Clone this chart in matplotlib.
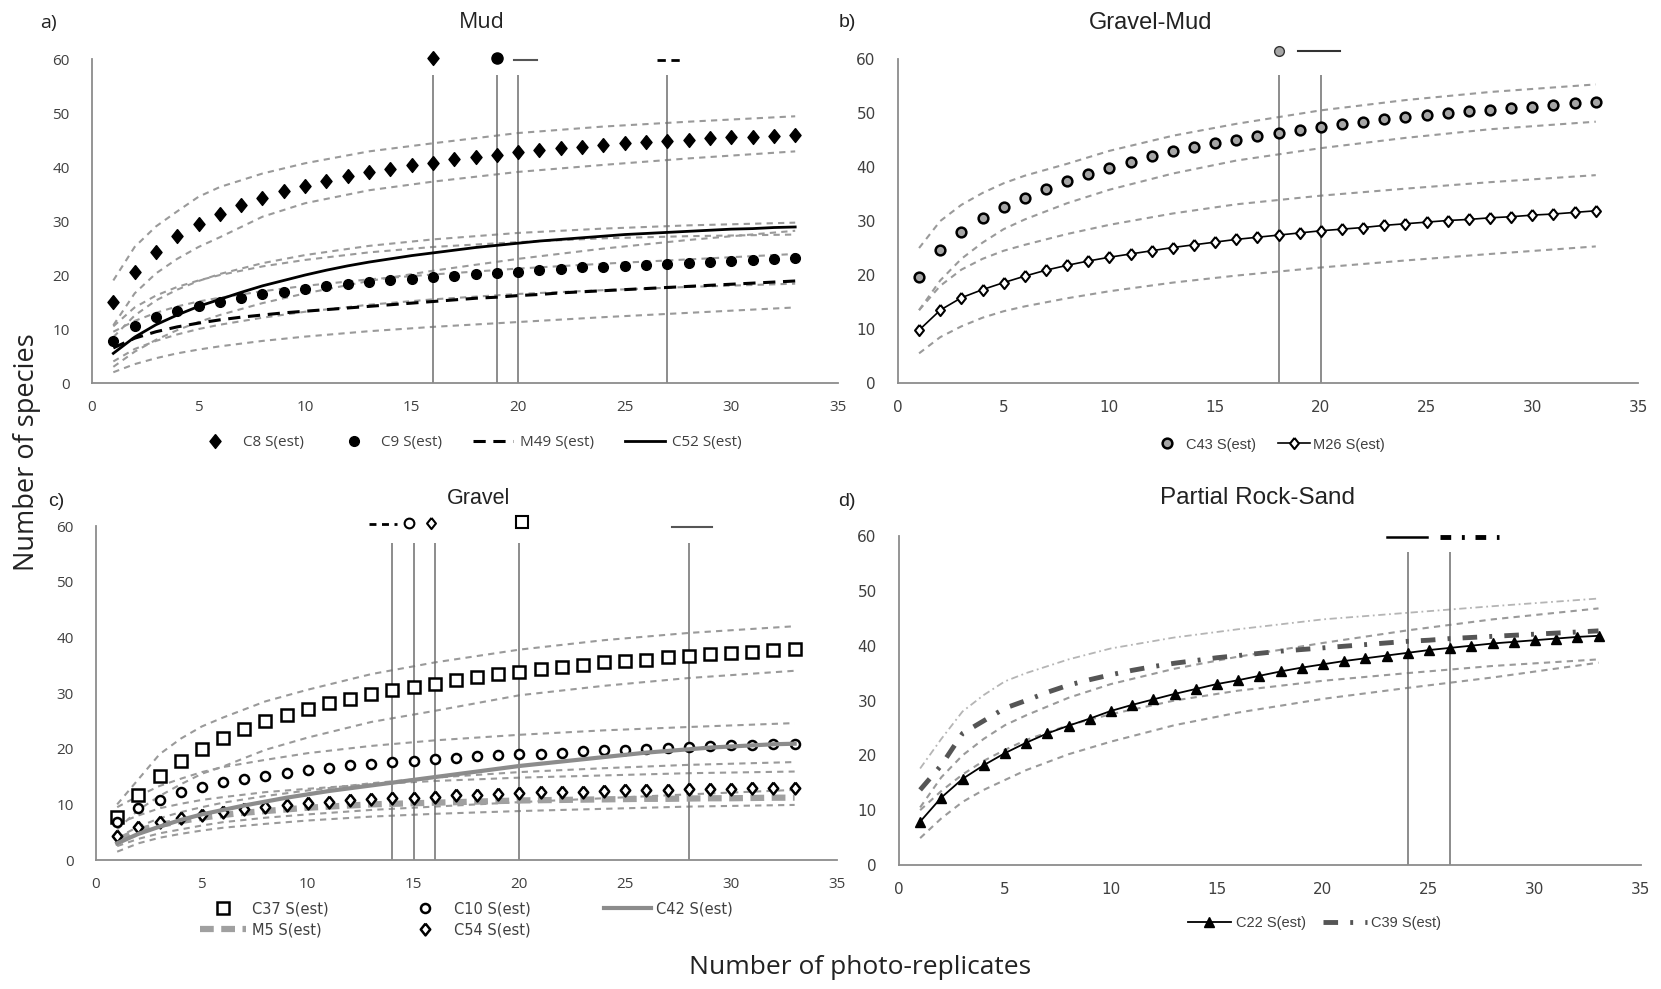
import numpy as np
import matplotlib
matplotlib.use('Agg')
import matplotlib.pyplot as plt

# replicates 1..33 and the subset used for the confidence bound curves
reps = list(range(1, 34))
bx = [1, 2, 3, 4, 5, 6, 8, 10, 13, 16, 20, 24, 28, 33]

# ---- a) Mud
c8 = [15, 20.5, 24.2, 27.2, 29.5, 31.3, 33, 34.3, 35.5, 36.5, 37.4, 38.3, 39, 39.6, 40.3, 40.8, 41.4,
      41.9, 42.3, 42.7, 43.1, 43.5, 43.8, 44.1, 44.4, 44.7, 44.9, 45.1, 45.3, 45.5, 45.6, 45.8, 46]
c9 = [7.7, 10.5, 12.2, 13.3, 14.3, 15.1, 15.8, 16.4, 16.9, 17.4, 17.9, 18.3, 18.7, 19, 19.3, 19.6, 19.9,
      20.2, 20.4, 20.6, 20.9, 21.1, 21.4, 21.5, 21.7, 21.9, 22.1, 22.3, 22.5, 22.6, 22.8, 22.9, 23.1]
m49 = [6.5, 8.3, 9.5, 10.4, 11.1, 11.7, 12.2, 12.6, 13.0, 13.3, 13.6, 13.9, 14.2, 14.5, 14.8, 15.1, 15.4,
       15.7, 15.9, 16.2, 16.4, 16.7, 16.9, 17.1, 17.3, 17.5, 17.7, 17.9, 18.1, 18.3, 18.5, 18.7, 18.9]
c52 = [5.5, 8.5, 10.8, 12.6, 14.2, 15.5, 16.8, 18, 19, 20, 20.9, 21.7, 22.4, 23, 23.6, 24.1, 24.6,
       25.1, 25.5, 25.9, 26.3, 26.6, 26.9, 27.2, 27.5, 27.7, 27.9, 28.1, 28.3, 28.5, 28.6, 28.8, 28.9]
mud_bounds = [
    [19, 25.2, 29, 31.8, 34.5, 36.3, 38.8, 40.7, 42.9, 44.4, 46.3, 47.5, 48.4, 49.4],
    [10.7, 16.6, 20.3, 23, 25.2, 27, 30.8, 33.3, 35.7, 37.3, 39.1, 40.4, 41.6, 42.9],
    [10.5, 14, 16.2, 17.8, 19, 20, 21.6, 22.8, 24.2, 25.2, 26.1, 26.8, 27.2, 27.5],
    [4, 6.3, 7.8, 9, 10, 10.8, 12.1, 13.2, 14.5, 15.5, 16.5, 17.2, 17.8, 18.4],
    [9.5, 11.5, 13, 14.2, 15.1, 15.8, 17, 18, 19.2, 20.1, 21.2, 22.1, 22.9, 23.9],
    [2, 3.5, 4.6, 5.5, 6.2, 6.8, 7.8, 8.6, 9.6, 10.4, 11.3, 12.2, 13, 14],
    [8.5, 12.5, 15.3, 17.3, 18.9, 20.2, 22.2, 23.7, 25.4, 26.6, 27.8, 28.6, 29.2, 29.7],
    [3, 5.8, 8, 9.8, 11.3, 12.6, 14.8, 16.6, 18.9, 20.8, 23, 24.9, 26.5, 28.2],
]
mud_vlines = [16, 19, 20, 27]

# ---- b) Gravel-Mud
c43 = [19.6, 24.7, 27.9, 30.5, 32.6, 34.3, 36, 37.5, 38.8, 39.9, 40.9, 42, 42.9, 43.7, 44.4, 45.1, 45.7,
       46.3, 46.9, 47.5, 48, 48.4, 48.9, 49.3, 49.7, 50, 50.3, 50.6, 51, 51.2, 51.5, 51.8, 52]
m26 = [9.8, 13.5, 15.8, 17.3, 18.6, 19.8, 20.9, 21.8, 22.6, 23.3, 23.9, 24.5, 25.1, 25.6, 26.1, 26.6, 27,
       27.4, 27.8, 28.2, 28.5, 28.8, 29.2, 29.5, 29.8, 30.1, 30.3, 30.6, 30.8, 31.1, 31.3, 31.6, 31.9]
gm_bounds = [
    [25, 30, 33, 35.2, 37, 38.4, 40.6, 43, 45.8, 48, 50.5, 52.4, 53.9, 55.3],
    [13.5, 19, 23, 26, 28.5, 30.3, 33.3, 35.8, 38.8, 41.2, 43.5, 45.4, 47, 48.4],
    [13.5, 18, 21, 23, 24.5, 25.6, 27.6, 29.3, 31.4, 33.1, 34.7, 36, 37.2, 38.5],
    [5.5, 8.5, 10.5, 12.1, 13.3, 14.2, 15.7, 17, 18.6, 19.9, 21.4, 22.7, 23.9, 25.3],
]
gm_vlines = [18, 20]

# ---- c) Gravel
c37 = [7.7, 11.7, 15.1, 17.8, 19.9, 21.9, 23.5, 24.9, 26, 27.2, 28.2, 28.9, 29.8, 30.6, 31.1, 31.7, 32.3,
       32.9, 33.4, 33.8, 34.3, 34.7, 35.1, 35.5, 35.8, 36.0, 36.4, 36.7, 37.0, 37.2, 37.4, 37.7, 38.0]
c10 = [6.8, 9.4, 10.8, 12.2, 13.1, 14.0, 14.6, 15.1, 15.7, 16.2, 16.5, 17, 17.3, 17.6, 17.8, 18.1, 18.4,
       18.6, 18.8, 19, 19.1, 19.3, 19.6, 19.7, 19.8, 20, 20.2, 20.3, 20.5, 20.6, 20.7, 20.8, 20.9]
c42 = [3.0, 4.7, 6.0, 7.2, 8.2, 9.0, 9.8, 10.5, 11.2, 11.8, 12.4, 12.9, 13.4, 13.9, 14.4, 14.9, 15.4,
       15.9, 16.4, 16.9, 17.3, 17.7, 18.1, 18.5, 18.9, 19.3, 19.6, 19.9, 20.2, 20.4, 20.6, 20.8, 20.9]
m5 = [3.5, 5.3, 6.3, 7, 7.6, 8.1, 8.5, 8.8, 9.1, 9.4, 9.6, 9.8, 10.0, 10.1, 10.2, 10.3, 10.4,
      10.5, 10.6, 10.7, 10.75, 10.8, 10.85, 10.9, 10.95, 11.0, 11.0, 11.05, 11.1, 11.1, 11.15, 11.2, 11.2]
c54 = [4.3, 5.9, 6.8, 7.5, 8.1, 8.6, 9.1, 9.6, 9.9, 10.2, 10.5, 10.7, 10.9, 11.1, 11.2, 11.4, 11.6,
       11.7, 11.9, 12.0, 12.2, 12.2, 12.3, 12.4, 12.5, 12.5, 12.6, 12.7, 12.8, 12.8, 12.9, 12.9, 13.0]
gr_bounds = [
    [10, 14.5, 19, 21.8, 24, 25.6, 28.5, 30.6, 33.4, 35.5, 37.8, 39.5, 40.8, 42],
    [5.5, 9, 11.5, 13.6, 15.5, 16.8, 19.8, 22, 24.8, 26.8, 29.6, 31.3, 32.7, 34],
    [9.5, 11.5, 13.3, 14.6, 15.8, 16.7, 18, 19.2, 20.5, 21.5, 22.5, 23.3, 23.9, 24.6],
    [4, 6, 7.5, 8.6, 9.5, 10.3, 11.5, 12.5, 13.8, 14.8, 15.8, 16.5, 17.1, 17.6],
    [6.5, 8, 9.3, 10.1, 10.8, 11.3, 12.2, 12.8, 13.6, 14.2, 14.8, 15.2, 15.6, 15.9],
    [1.5, 3, 4, 4.7, 5.3, 5.8, 6.5, 7.1, 7.8, 8.3, 8.8, 9.2, 9.6, 9.9],
    [2.5, 3.8, 4.8, 5.5, 6.2, 6.8, 7.6, 8.2, 9, 9.6, 10.4, 11.1, 11.8, 12.6],
]
gr_vlines = [14, 15, 16, 20, 28]

# ---- d) Partial Rock-Sand
c22 = [7.9, 12.3, 15.7, 18.2, 20.4, 22.3, 24, 25.4, 26.7, 28.1, 29.2, 30.2, 31.2, 32.1, 33, 33.7, 34.5,
       35.3, 36, 36.6, 37.2, 37.7, 38.2, 38.7, 39.2, 39.6, 40, 40.4, 40.7, 41, 41.3, 41.6, 41.8]
c39 = [13.7, 18.2, 24, 26.3, 28.6, 30, 31.5, 32.8, 33.8, 34.7, 35.5, 36.2, 36.8, 37.3, 37.8, 38.2, 38.6,
       39, 39.3, 39.6, 39.9, 40.2, 40.5, 40.8, 41.0, 41.3, 41.5, 41.7, 41.9, 42.1, 42.3, 42.5, 42.7]
c39_up = [17.6, 23, 28, 31, 33.5, 35, 37.5, 39.5, 41.5, 43, 44.8, 46, 47.2, 48.6]
rs_bounds = [
    [10.5, 16, 20, 23, 25.5, 27.3, 30.5, 33, 35.8, 38, 40.5, 42.8, 44.8, 46.8],
    [4.9, 8.5, 11.5, 13.7, 15.5, 17.3, 20.2, 22.5, 25.5, 27.8, 30.3, 32.3, 34.2, 36.9],
    [10, 13.5, 16.5, 19, 21, 22.8, 25.5, 27.5, 30, 31.8, 33.6, 35, 36.3, 37.5],
]
rs_vlines = [24, 26]

GRAY = '#9a9a9a'
TXT = '#404040'
DIAM = [(0, 1), (0.8, 0), (0, -1), (-0.8, 0), (0, 1)]

fig = plt.figure(figsize=(16.61, 9.89), dpi=100)
plt.rcParams['font.family'] = ['Liberation Sans Narrow', 'Liberation Sans', 'DejaVu Sans']


def style(ax, font):
    ax.set_xlim(0, 35)
    ax.set_ylim(0, 60)
    ax.set_xticks(range(0, 36, 5))
    ax.set_yticks(range(0, 61, 10))
    for s in ['top', 'right']:
        ax.spines[s].set_visible(False)
    for s in ['left', 'bottom']:
        ax.spines[s].set_color('#8c8c8c')
        ax.spines[s].set_linewidth(1.3)
    ax.tick_params(length=0, labelsize=11, labelcolor=TXT, pad=12)
    ax.tick_params(axis='y', pad=16)
    for lab in ax.get_xticklabels() + ax.get_yticklabels():
        lab.set_family(font)


def bounds(ax, curves, **kw):
    for b in curves:
        ax.plot(bx, b, color=GRAY, lw=1.5, dashes=(3, 2.5), **kw)


def vlines(ax, xs):
    ax.vlines(xs, 0, 57, color='#6e6e6e', lw=1.1)


def legend_text(leg, font=None):
    for t in leg.get_texts():
        t.set_color(TXT)
        if font:
            t.set_family(font)


# a) Mud
ax = fig.add_axes([0.0554, 0.6127, 0.449, 0.3276])
style(ax, 'Open Sans')
bounds(ax, mud_bounds)
vlines(ax, mud_vlines)
ax.plot(reps, c8, marker=DIAM, color='black', ms=10, ls='none', label='C8 S(est)')
ax.plot(reps, c9, 'o', color='black', ms=7, ls='none', label='C9 S(est)')
ax.plot(reps, m49, color='black', lw=2.2, dashes=(4, 2.5), label='M49 S(est)')
ax.plot(reps, c52, color='black', lw=2, label='C52 S(est)')
ax.plot([16], [60.2], marker=DIAM, color='black', ms=10, clip_on=False)
ax.plot([19], [60.2], 'o', color='black', ms=8, clip_on=False)
ax.plot([19.8, 20.9], [59.8, 59.8], color='#555555', lw=1.5, clip_on=False)
ax.plot([26.5, 27.8], [59.8, 59.8], color='black', lw=2, dashes=(3, 2), clip_on=False)
leg = ax.legend(loc='center', bbox_to_anchor=(0.505, -0.185), ncol=4, frameon=False,
                fontsize=11, columnspacing=2.0, handlelength=2.6, handletextpad=0.5)
legend_text(leg, 'Open Sans')

# b) Gravel-Mud
ax = fig.add_axes([0.5406, 0.6127, 0.4456, 0.3276])
style(ax, 'Liberation Sans Narrow')
bounds(ax, gm_bounds)
vlines(ax, gm_vlines)
ax.plot(reps, c43, 'o', mfc='#a6a6a6', mec='black', mew=1.8, ms=7, ls='none', label='C43 S(est)')
ax.plot(reps, m26, color='black', lw=1.2, marker=DIAM, mfc='white', mec='black', mew=1.5, ms=8,
        label='M26 S(est)')
ax.plot([18], [61.5], 'o', mfc='#a6a6a6', mec='#333333', mew=1, ms=7, clip_on=False)
ax.plot([18.9, 20.9], [61.4, 61.4], color='#333333', lw=1.5, clip_on=False)
leg = ax.legend(loc='center', bbox_to_anchor=(0.5, -0.19), ncol=2, frameon=False,
                fontsize=10.5, columnspacing=1.5, handlelength=2.2, handletextpad=0.2)
legend_text(leg)

# c) Gravel
ax = fig.add_axes([0.0578, 0.1304, 0.4461, 0.3377])
style(ax, 'Open Sans')
bounds(ax, gr_bounds)
vlines(ax, gr_vlines)
ax.plot(reps, c37, 's', mfc='white', mec='black', mew=1.8, ms=8.5, ls='none', label='C37 S(est)')
ax.plot(reps, m5, color='#a0a0a0', lw=4.5, dashes=(2.2, 1.2), label='M5 S(est)')
ax.plot(reps, c10, 'o', mfc='white', mec='black', mew=1.8, ms=6.5, ls='none', label='C10 S(est)')
ax.plot(reps, c54, marker=DIAM, mfc='white', mec='black', mew=1.8, ms=8.5, ls='none', label='C54 S(est)')
ax.plot(reps, c42, color='#8c8c8c', lw=3, label='C42 S(est)')
ax.plot([12.9, 14.2], [60.4, 60.4], color='black', lw=2, dashes=(2.5, 2), clip_on=False)
ax.plot([14.8], [60.6], 'o', mfc='white', mec='black', mew=1.5, ms=7, clip_on=False)
ax.plot([15.8], [60.6], marker=DIAM, mfc='white', mec='black', mew=1.5, ms=8, clip_on=False)
ax.plot([20.1], [60.8], 's', mfc='white', mec='black', mew=1.5, ms=9, clip_on=False)
ax.plot([27.2, 29.1], [59.8, 59.8], color='#555555', lw=1.5, clip_on=False)
leg = ax.legend(loc='center', bbox_to_anchor=(0.50, -0.178), ncol=3, frameon=False,
                fontsize=10.5, columnspacing=5.0, handlelength=3.2, handletextpad=0.4,
                labelspacing=0.4)
legend_text(leg, 'Liberation Sans Narrow')

# d) Partial Rock-Sand
ax = fig.add_axes([0.5412, 0.1254, 0.4467, 0.3326])
style(ax, 'Liberation Sans Narrow')
bounds(ax, rs_bounds)
ax.plot(bx, c39_up, color='#b5b5b5', lw=1.3, dashes=(4, 2, 1, 2))
vlines(ax, rs_vlines)
ax.plot(reps, c22, color='black', lw=1.3, marker='^', ms=7, mfc='black', mec='black', label='C22 S(est)')
ax.plot(reps, c39, color='#555555', lw=3.5, dashes=(3, 2.5, 0.6, 2.5), label='C39 S(est)')
ax.plot([23, 24.9], [59.8, 59.8], color='black', lw=1.8, clip_on=False)
ax.plot([25.5, 28.3], [59.8, 59.8], color='black', lw=3.5, dashes=(2.2, 2.2, 0.6, 2.2), clip_on=False)
leg = ax.legend(loc='center', bbox_to_anchor=(0.56, -0.176), ncol=2, frameon=False,
                fontsize=10.5, columnspacing=1.2, handlelength=3, handletextpad=0.3)
legend_text(leg)

# panel titles and letters
fig.text(0.029, 0.977, 'a)', fontsize=14, color='#222222', family='Open Sans', va='center', ha='center')
fig.text(0.290, 0.977, 'Mud', fontsize=15.5, color='#222222', family='Open Sans', va='center', ha='center')
fig.text(0.510, 0.977, 'b)', fontsize=14, color='#222222', va='center', ha='center')
fig.text(0.693, 0.977, 'Gravel-Mud', fontsize=17, color='#222222', va='center', ha='center')
fig.text(0.034, 0.493, 'c)', fontsize=14, color='#222222', va='center', ha='center')
fig.text(0.288, 0.496, 'Gravel', fontsize=15.5, color='#222222', va='center', ha='center')
fig.text(0.510, 0.493, 'd)', fontsize=14, color='#222222', va='center', ha='center')
fig.text(0.757, 0.496, 'Partial Rock-Sand', fontsize=17.5, color='#222222', va='center', ha='center')

fig.text(0.016, 0.543, 'Number of species', rotation=90, fontsize=19.5, color='#222222',
         family='Open Sans', va='center', ha='center')
fig.text(0.518, 0.022, 'Number of photo-replicates', fontsize=19, color='#222222',
         family='Open Sans', va='center', ha='center')

fig.savefig('out.png', dpi=100)
